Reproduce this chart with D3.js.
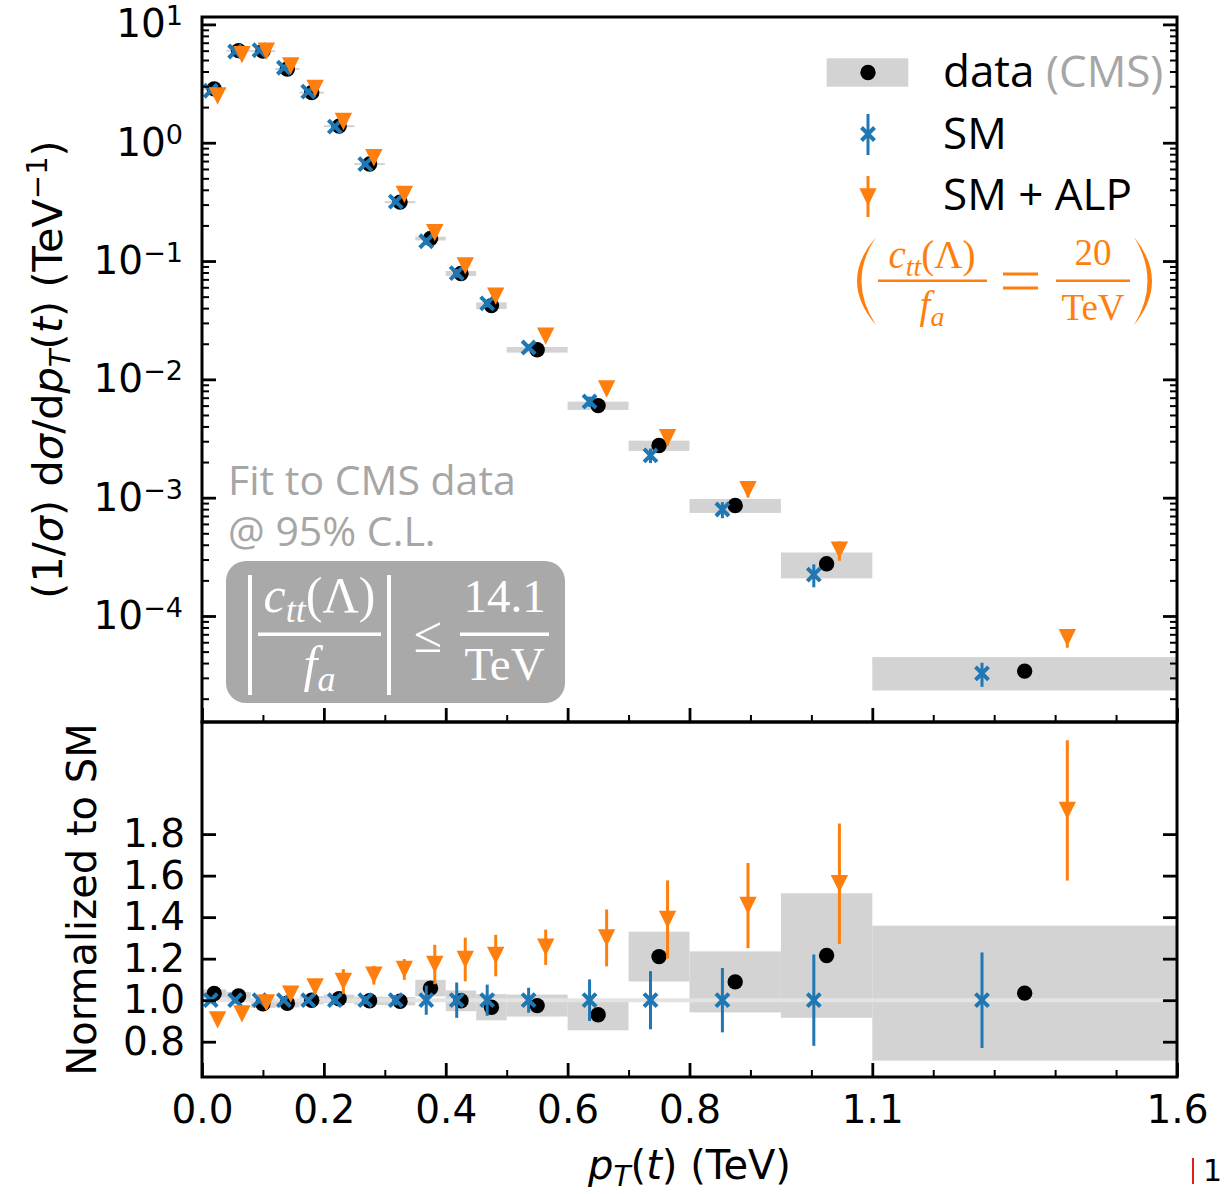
<!DOCTYPE html>
<html>
<head>
<meta charset="utf-8">
<script src="https://cdn.jsdelivr.net/npm/d3@7"></script>
<style>
  body { margin: 0; background: #fff; }
</style>
</head>
<body>
<svg id="chart" width="1224" height="1194" font-family="DejaVu Sans, sans-serif"></svg>
<script>
// pT(t) bins (TeV)
const binEdges = [0, 0.04, 0.08, 0.12, 0.16, 0.2, 0.25, 0.3, 0.35, 0.4, 0.45, 0.5, 0.6, 0.7, 0.8, 0.95, 1.1, 1.6]

// upper panel: (1/sigma) dsigma/dpT  (TeV^-1)
const dataVals = [2.85, 6.0, 5.95, 4.2, 2.65, 1.38, 0.66, 0.315, 0.155, 0.0785, 0.042, 0.0178, 0.0060, 0.00276, 0.000859, 0.000276, 3.42e-5]
const smVals   = [2.75, 5.9, 6.05, 4.3, 2.70, 1.37, 0.66, 0.318, 0.147, 0.079, 0.0438, 0.0186, 0.0065, 0.00228, 0.000794, 0.000224, 3.27e-5]
const alpVals  = [2.48, 5.55, 5.95, 4.45, 2.88, 1.51, 0.746, 0.366, 0.174, 0.091, 0.0505, 0.0232, 0.0083, 0.00321, 0.00117, 0.00036, 6.55e-5]

// lower panel: normalized to SM
const dataRatio    = [1.032, 1.02, 0.983, 0.985, 1.0, 1.007, 0.997, 0.995, 1.058, 0.997, 0.966, 0.974, 0.93, 1.21, 1.088, 1.215, 1.034]
const dataRatioErr = [0.02, 0.02, 0.02, 0.02, 0.02, 0.02, 0.02, 0.02, 0.04, 0.05, 0.063, 0.053, 0.075, 0.12, 0.147, 0.3, 0.325]
const smRatioErr   = [0.015, 0.015, 0.015, 0.015, 0.015, 0.02, 0.02, 0.025, 0.07, 0.085, 0.075, 0.06, 0.1, 0.14, 0.155, 0.22, 0.23]
const alpRatio     = [0.905, 0.934, 0.987, 1.029, 1.064, 1.09, 1.12, 1.148, 1.172, 1.196, 1.215, 1.255, 1.3, 1.389, 1.456, 1.561, 1.914]
const alpRatioErr  = [0.01, 0.01, 0.015, 0.02, 0.03, 0.06, 0.045, 0.05, 0.095, 0.105, 0.1, 0.085, 0.137, 0.188, 0.205, 0.29, 0.338]

// ticks
const xMajorTicks = [0, 0.2, 0.4, 0.6, 0.8, 1.1, 1.6]
const xMinorTicks = [0.1, 0.3, 0.5, 0.7, 0.9, 1.0, 1.2, 1.3, 1.4, 1.5]
const logDecades = [-4, -3, -2, -1, 0, 1]
const ratioTicks = [0.8, 1.0, 1.2, 1.4, 1.6, 1.8]

const BLUE = "#1f77b4", ORANGE = "#ff7f0e", BOXGRAY = "#d3d3d3", TXTGRAY = "#a6a6a6"

const pL = 202, pR = 1177, pT = 17, pM = 722, pB = 1077

const svg = d3.select("#chart")
svg.append("rect").attr("width", 1224).attr("height", 1194).attr("fill", "#fff")

const x = d3.scaleLinear().domain([0, 1.6]).range([pL, pR])
const yTop = d3.scaleLog().domain([Math.pow(10, -4.896), Math.pow(10, 1.0626)]).range([pM, pT])
const yRat = d3.scaleLinear().domain([0.63, 2.34]).range([pB, pM])

const bins = binEdges.slice(0, -1).map((lo, i) => {
  const hi = binEdges[i + 1], w = hi - lo, c = (lo + hi) / 2
  return { i, lo, hi, c, xs: c - 0.14 * w, xa: c + 0.14 * w }
})

const defs = svg.append("defs")
defs.append("clipPath").attr("id", "clipTop").append("rect")
  .attr("x", pL).attr("y", pT).attr("width", pR - pL).attr("height", pM - pT)
defs.append("clipPath").attr("id", "clipBot").append("rect")
  .attr("x", pL).attr("y", pM).attr("width", pR - pL).attr("height", pB - pM)

// marker helpers
const xPath = (cx, cy, s = 6.5) => `M${cx - s},${cy - s}L${cx + s},${cy + s}M${cx - s},${cy + s}L${cx + s},${cy - s}`
const triPath = (cx, cy, s = 8.7) => `M${cx - s},${cy - s}L${cx + s},${cy - s}L${cx},${cy + s}Z`

function drawPanel(g, yScale, dVal, dLo, dHi, sVal, sLo, sHi, aVal, aLo, aHi) {
  g.append("g").selectAll("rect")
    .data(bins)
    .join("rect")
      .attr("x", d => x(d.lo))
      .attr("width", d => x(d.hi) - x(d.lo))
      .attr("y", d => yScale(dHi(d.i)))
      .attr("height", d => Math.max(1.5, yScale(dLo(d.i)) - yScale(dHi(d.i))))
      .attr("fill", BOXGRAY)

  return () => {
    g.append("g").selectAll("circle")
      .data(bins)
      .join("circle")
        .attr("cx", d => x(d.c))
        .attr("cy", d => yScale(dVal(d.i)))
        .attr("r", 7.7)
        .attr("fill", "#000")

    g.append("g").selectAll("line")
      .data(bins)
      .join("line")
        .attr("x1", d => x(d.xs)).attr("x2", d => x(d.xs))
        .attr("y1", d => yScale(sLo(d.i))).attr("y2", d => yScale(sHi(d.i)))
        .attr("stroke", BLUE).attr("stroke-width", 3)
    g.append("g").selectAll("path")
      .data(bins)
      .join("path")
        .attr("d", d => xPath(x(d.xs), yScale(sVal(d.i))))
        .attr("stroke", BLUE).attr("stroke-width", 4).attr("fill", "none")

    g.append("g").selectAll("line")
      .data(bins)
      .join("line")
        .attr("x1", d => x(d.xa)).attr("x2", d => x(d.xa))
        .attr("y1", d => yScale(aLo(d.i))).attr("y2", d => yScale(aHi(d.i)))
        .attr("stroke", ORANGE).attr("stroke-width", 3)
    g.append("g").selectAll("path")
      .data(bins)
      .join("path")
        .attr("d", d => triPath(x(d.xa), yScale(aVal(d.i))))
        .attr("fill", ORANGE)
  }
}

// upper panel
const gTop = svg.append("g").attr("clip-path", "url(#clipTop)")
const relD = i => dataRatioErr[i] / dataRatio[i]
const relA = i => alpRatioErr[i] / alpRatio[i]
drawPanel(gTop, yTop,
  i => dataVals[i], i => dataVals[i] * (1 - relD(i)), i => dataVals[i] * (1 + relD(i)),
  i => smVals[i], i => smVals[i] * (1 - smRatioErr[i]), i => smVals[i] * (1 + smRatioErr[i]),
  i => alpVals[i], i => alpVals[i] * (1 - relA(i)), i => alpVals[i] * (1 + relA(i)))()

// lower panel
const gBot = svg.append("g").attr("clip-path", "url(#clipBot)")
const markersBot = drawPanel(gBot, yRat,
  i => dataRatio[i], i => dataRatio[i] - dataRatioErr[i], i => dataRatio[i] + dataRatioErr[i],
  i => 1, i => 1 - smRatioErr[i], i => 1 + smRatioErr[i],
  i => alpRatio[i], i => alpRatio[i] - alpRatioErr[i], i => alpRatio[i] + alpRatioErr[i])
gBot.append("line")
  .attr("x1", x(0)).attr("x2", x(1.6))
  .attr("y1", yRat(1)).attr("y2", yRat(1))
  .attr("stroke", "#e3e3e3").attr("stroke-width", 4)
markersBot()

// axes
const minorLog = []
for (let e = -5; e <= 1; e++) for (let m = 2; m <= 9; m++) {
  const v = m * Math.pow(10, e)
  if (v > yTop.domain()[0] && v < yTop.domain()[1]) minorLog.push(v)
}

function styleAxis(g, width) {
  g.select(".domain").remove()
  g.attr("font-family", "DejaVu Sans").attr("font-size", 39)
  g.selectAll(".tick line").attr("stroke", "#000").attr("stroke-width", width)
  g.selectAll(".tick text").attr("fill", "#000")
}

// upper y (log)
const gyTop = svg.append("g").attr("transform", `translate(${pL},0)`)
  .call(d3.axisLeft(yTop).tickValues(logDecades.map(e => Math.pow(10, e))).tickSize(-14).tickPadding(19).tickFormat(""))
  .call(g => styleAxis(g, 2.8))
gyTop.selectAll(".tick text").each(function(d) {
  const e = Math.round(Math.log10(d))
  const t = d3.select(this).text(null)
  t.append("tspan").text("10")
  t.append("tspan").attr("font-size", 27).attr("dy", -12).text(e < 0 ? "\u2212" + (-e) : String(e))
})
svg.append("g").attr("transform", `translate(${pL},0)`)
  .call(d3.axisLeft(yTop).tickValues(minorLog).tickSize(-7).tickFormat(""))
  .call(g => styleAxis(g, 2))
svg.append("g").attr("transform", `translate(${pR},0)`)
  .call(d3.axisRight(yTop).tickValues(logDecades.map(e => Math.pow(10, e))).tickSize(-14).tickFormat(""))
  .call(g => styleAxis(g, 2.8))
svg.append("g").attr("transform", `translate(${pR},0)`)
  .call(d3.axisRight(yTop).tickValues(minorLog).tickSize(-7).tickFormat(""))
  .call(g => styleAxis(g, 2))

// x ticks, bottom of upper panel and bottom of lower panel
svg.append("g").attr("transform", `translate(0,${pM})`)
  .call(d3.axisBottom(x).tickValues(xMajorTicks).tickSize(-14).tickFormat(""))
  .call(g => styleAxis(g, 2.8))
svg.append("g").attr("transform", `translate(0,${pM})`)
  .call(d3.axisBottom(x).tickValues(xMinorTicks).tickSize(-7).tickFormat(""))
  .call(g => styleAxis(g, 2))
svg.append("g").attr("transform", `translate(0,${pB})`)
  .call(d3.axisBottom(x).tickValues(xMajorTicks).tickSize(-14).tickPadding(18).tickFormat(d3.format(".1f")))
  .call(g => styleAxis(g, 2.8))
svg.append("g").attr("transform", `translate(0,${pB})`)
  .call(d3.axisBottom(x).tickValues(xMinorTicks).tickSize(-7).tickFormat(""))
  .call(g => styleAxis(g, 2))

// ratio y
svg.append("g").attr("transform", `translate(${pL},0)`)
  .call(d3.axisLeft(yRat).tickValues(ratioTicks).tickSize(-14).tickPadding(17).tickFormat(d3.format(".1f")))
  .call(g => styleAxis(g, 2.8))
svg.append("g").attr("transform", `translate(${pR},0)`)
  .call(d3.axisRight(yRat).tickValues(ratioTicks).tickSize(-14).tickFormat(""))
  .call(g => styleAxis(g, 2.8))

// frames
svg.append("rect").attr("x", pL).attr("y", pT).attr("width", pR - pL).attr("height", pM - pT)
  .attr("fill", "none").attr("stroke", "#000").attr("stroke-width", 3)
svg.append("rect").attr("x", pL).attr("y", pM).attr("width", pR - pL).attr("height", pB - pM)
  .attr("fill", "none").attr("stroke", "#000").attr("stroke-width", 3)

// axis labels
const yl = svg.append("text").attr("transform", "translate(62,369.5) rotate(-90)")
  .attr("text-anchor", "middle").attr("font-size", 41.5)
yl.append("tspan").text("(1/")
yl.append("tspan").attr("font-style", "italic").text("\u03c3")
yl.append("tspan").text(") d")
yl.append("tspan").attr("font-style", "italic").text("\u03c3")
yl.append("tspan").text("/d")
yl.append("tspan").attr("font-style", "italic").text("p")
yl.append("tspan").attr("font-style", "italic").attr("font-size", 29).attr("dy", 8).text("T")
yl.append("tspan").attr("dy", -8).text("(")
yl.append("tspan").attr("font-style", "italic").text("t")
yl.append("tspan").text(") (TeV")
yl.append("tspan").attr("font-size", 29).attr("dy", -15).text("\u22121")
yl.append("tspan").attr("dy", 15).text(")")

svg.append("text").attr("transform", "translate(96,899.5) rotate(-90)")
  .attr("text-anchor", "middle").attr("font-size", 40).text("Normalized to SM")

const xl = svg.append("text").attr("x", 689.5).attr("y", 1179)
  .attr("text-anchor", "middle").attr("font-size", 40)
xl.append("tspan").attr("font-style", "italic").text("p")
xl.append("tspan").attr("font-style", "italic").attr("font-size", 28).attr("dy", 7).text("T")
xl.append("tspan").attr("dy", -7).text("(")
xl.append("tspan").attr("font-style", "italic").text("t")
xl.append("tspan").text(") (TeV)")

// legend
const lg = svg.append("g")
lg.append("rect").attr("x", 826.7).attr("y", 58.3).attr("width", 81.6).attr("height", 28.4).attr("fill", BOXGRAY)
lg.append("circle").attr("cx", 868).attr("cy", 72.5).attr("r", 7.7).attr("fill", "#000")
lg.append("line").attr("x1", 868).attr("x2", 868).attr("y1", 114).attr("y2", 155).attr("stroke", BLUE).attr("stroke-width", 3)
lg.append("path").attr("d", xPath(868, 134)).attr("stroke", BLUE).attr("stroke-width", 4)
lg.append("line").attr("x1", 868).attr("x2", 868).attr("y1", 176).attr("y2", 217).attr("stroke", ORANGE).attr("stroke-width", 3)
lg.append("path").attr("d", triPath(868, 197)).attr("fill", ORANGE)

const legFont = "Open Sans, DejaVu Sans, sans-serif"
const lt = lg.append("g").attr("font-family", legFont).attr("font-size", 44)
const t1 = lt.append("text").attr("x", 943).attr("y", 87)
t1.append("tspan").text("data")
t1.append("tspan").attr("fill", TXTGRAY).text(" (CMS)")
lt.append("text").attr("x", 943).attr("y", 149).text("SM")
lt.append("text").attr("x", 943).attr("y", 210).text("SM + ALP")

// legend formula (orange)
const serif = "Liberation Serif, DejaVu Serif, serif"
const fm = svg.append("g").attr("fill", ORANGE).attr("font-family", serif)
function ctt(g, cx, y, size) {
  const t = g.append("text").attr("x", cx).attr("y", y).attr("text-anchor", "middle").attr("font-size", size)
  t.append("tspan").attr("font-style", "italic").text("c")
  t.append("tspan").attr("font-style", "italic").attr("font-size", size * 0.72).attr("dy", size * 0.2).text("tt")
  t.append("tspan").attr("dy", -size * 0.2).text("(\u039b)")
}
function fa(g, cx, y, size) {
  const t = g.append("text").attr("x", cx).attr("y", y).attr("text-anchor", "middle").attr("font-size", size)
  t.append("tspan").attr("font-style", "italic").text("f")
  t.append("tspan").attr("font-style", "italic").attr("font-size", size * 0.72).attr("dy", size * 0.2).text("a")
}
ctt(fm, 932, 268, 39)
fm.append("line").attr("x1", 878).attr("x2", 987).attr("y1", 280.7).attr("y2", 280.7).attr("stroke", ORANGE).attr("stroke-width", 2.6)
fa(fm, 932, 318, 39)
fm.append("line").attr("x1", 1003).attr("x2", 1038).attr("y1", 274).attr("y2", 274).attr("stroke", ORANGE).attr("stroke-width", 3.2)
fm.append("line").attr("x1", 1003).attr("x2", 1038).attr("y1", 288).attr("y2", 288).attr("stroke", ORANGE).attr("stroke-width", 3.2)
fm.append("text").attr("x", 1093).attr("y", 265).attr("text-anchor", "middle").attr("font-size", 37).text("20")
fm.append("line").attr("x1", 1056).attr("x2", 1130).attr("y1", 280.7).attr("y2", 280.7).attr("stroke", ORANGE).attr("stroke-width", 2.6)
fm.append("text").attr("x", 1093).attr("y", 320).attr("text-anchor", "middle").attr("font-size", 37).text("TeV")
fm.append("path").attr("d", "M876,237Q838,281 876,325Q847,281 876,237Z")
fm.append("path").attr("d", "M1134,237Q1170,281 1134,325Q1161,281 1134,237Z")

// fit annotation
const annFont = "Open Sans, DejaVu Sans, sans-serif"
const an = svg.append("g").attr("font-family", annFont).attr("font-size", 41).attr("fill", TXTGRAY)
an.append("text").attr("x", 228).attr("y", 495).text("Fit to CMS data")
an.append("text").attr("x", 228).attr("y", 546).text("@ 95% C.L.")

const ab = svg.append("g").attr("fill", "#fff").attr("font-family", serif)
ab.append("rect").attr("x", 226).attr("y", 561).attr("width", 339).attr("height", 142).attr("rx", 20).attr("fill", "#a9a9a9")
ab.append("line").attr("x1", 250).attr("x2", 250).attr("y1", 575).attr("y2", 695).attr("stroke", "#fff").attr("stroke-width", 4)
ab.append("line").attr("x1", 389).attr("x2", 389).attr("y1", 575).attr("y2", 695).attr("stroke", "#fff").attr("stroke-width", 4)
ctt(ab, 319.5, 611.7, 50)
ab.append("line").attr("x1", 258).attr("x2", 381).attr("y1", 634.3).attr("y2", 634.3).attr("stroke", "#fff").attr("stroke-width", 3.4)
fa(ab, 319.5, 681, 50)
ab.append("text").attr("x", 428).attr("y", 652).attr("text-anchor", "middle").attr("font-size", 52).text("\u2264")
ab.append("text").attr("x", 504.5).attr("y", 611.7).attr("text-anchor", "middle").attr("font-size", 47).text("14.1")
ab.append("line").attr("x1", 460).attr("x2", 549).attr("y1", 634.3).attr("y2", 634.3).attr("stroke", "#fff").attr("stroke-width", 3.4)
ab.append("text").attr("x", 504.5).attr("y", 680).attr("text-anchor", "middle").attr("font-size", 47).text("TeV")

// page marker at the bottom right
svg.append("line").attr("x1", 1193).attr("x2", 1193).attr("y1", 1158).attr("y2", 1184).attr("stroke", "#e02020").attr("stroke-width", 2)
svg.append("text").attr("x", 1203).attr("y", 1181).attr("font-size", 30).text("1")
</script>
</body>
</html>
